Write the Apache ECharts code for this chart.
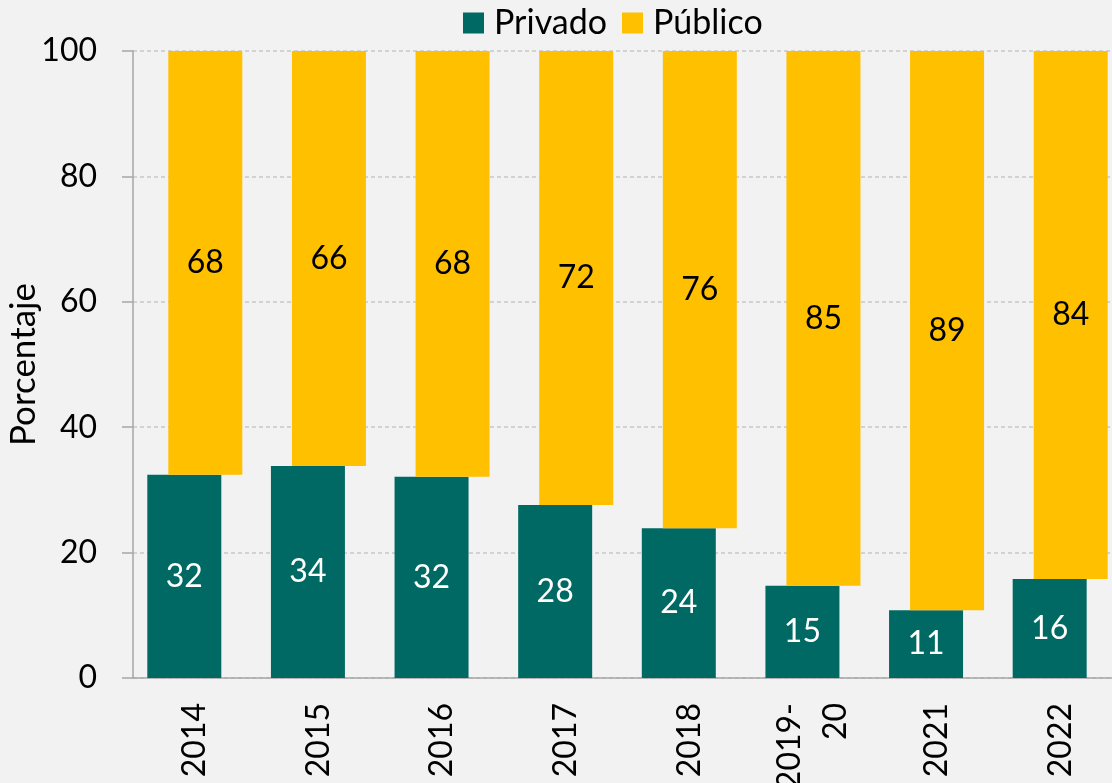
<!DOCTYPE html>
<html>
<head>
<meta charset="utf-8">
<script src="https://cdn.jsdelivr.net/npm/echarts@6/dist/echarts.min.js"></script>
<style>
  html, body { margin: 0; padding: 0; background: #f2f2f2; }
  #chart { width: 1112px; height: 783px; }
</style>
</head>
<body>
<div id="chart"></div>
<script>
const anios = ['2014', '2015', '2016', '2017', '2018', '2019-\n20', '2021', '2022']
const privado = [32.4, 33.8, 32.1, 27.6, 23.9, 14.7, 10.8, 15.8]
const publico = [67.6, 66.2, 67.9, 72.4, 76.1, 85.3, 89.2, 84.2]
const yTicks = [0, 20, 40, 60, 80, 100]

const chart = echarts.init(document.getElementById('chart'))
const fuente = 'Lato, "Open Sans", sans-serif'
const tam = 32

chart.setOption({
  backgroundColor: '#f2f2f2',
  textStyle: { fontFamily: fuente },
  legend: {
    data: ['Privado', 'Público'],
    top: 1,
    left: 458,
    icon: 'rect',
    itemWidth: 21,
    itemHeight: 21,
    itemGap: 15,
    textStyle: {
      fontSize: 34,
      color: '#000',
      fontFamily: fuente,
      padding: [0, 0, 0, 5]
    }
  },
  grid: { // area del grafico
    left: 133,
    right: -10,
    top: 51,
    bottom: 105,
    outerBoundsMode: 'none'
  },
  xAxis: {
    type: 'category',
    data: anios,
    axisLine: { lineStyle: { color: '#a6a6a6', width: 1.5 } },
    axisTick: { length: 12, lineStyle: { color: '#a6a6a6', width: 1.5 } },
    axisLabel: {
      rotate: 90,
      margin: 25,
      fontSize: tam,
      color: '#000',
      lineHeight: 46,
      fontFamily: fuente
    }
  },
  yAxis: {
    type: 'value',
    min: yTicks[0],
    max: yTicks[yTicks.length - 1],
    interval: 20,
    name: 'Porcentaje',
    nameLocation: 'middle',
    nameGap: 92,
    nameMoveOverlap: false,
    nameTextStyle: { fontSize: 35, color: '#000', fontFamily: fuente },
    axisLine: { show: true, lineStyle: { color: '#a6a6a6', width: 1.5 } },
    axisTick: { show: true, length: 11, lineStyle: { color: '#a6a6a6', width: 1.5 } },
    axisLabel: { margin: 36, fontSize: tam, color: '#000', fontFamily: fuente },
    splitLine: { lineStyle: { color: '#c8c8c8', type: [4, 3], width: 1.5 } }
  },
  series: [
    {
      name: 'Privado',
      type: 'bar',
      barWidth: 74,
      barGap: '-71.6%',
      itemStyle: { color: '#006963' },
      label: {
        show: true,
        position: 'inside',
        color: '#fff',
        fontSize: tam,
        fontFamily: fuente,
        formatter: p => Math.round(p.value)
      },
      data: privado
    },
    {
      name: 'base',
      type: 'bar',
      stack: 'pub',
      barWidth: 74,
      silent: true,
      itemStyle: { color: 'rgba(0,0,0,0)' },
      data: privado
    },
    {
      name: 'Público',
      type: 'bar',
      stack: 'pub',
      barWidth: 74,
      itemStyle: { color: '#ffc000' },
      label: {
        show: true,
        position: 'inside',
        color: '#000',
        fontSize: tam,
        fontFamily: fuente,
        formatter: p => Math.round(p.value)
      },
      data: publico
    }
  ]
})
</script>
</body>
</html>
